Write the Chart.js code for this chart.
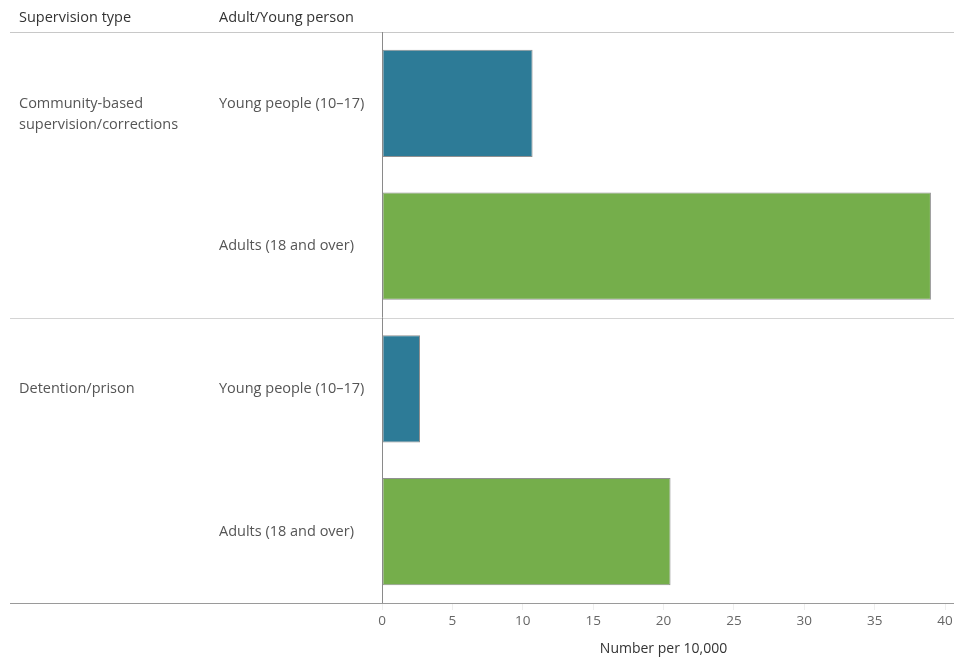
<!DOCTYPE html>
<html>
<head>
<meta charset="utf-8">
<script src="https://cdn.jsdelivr.net/npm/chart.js@4"></script>
<style>
  html, body { margin: 0; padding: 0; background: #fff; }
  #wrap { width: 954px; height: 659px; }
</style>
</head>
<body>
<div id="wrap"><canvas id="rateChart"></canvas></div>
<script>
// Rates of young people and adults under supervision, number per 10,000
const supervisionTypes = [['Community-based', 'supervision/corrections'], ['Detention/prison']];
const ageGroups = ['Young people (10\u201317)', 'Adults (18 and over)'];
const rates = [10.7, 39.0, 2.7, 20.5];
const barColors = ['#2d7b97', '#75ae4b'];

const headers = ['Supervision type', 'Adult/Young person'];
const axisTitle = 'Number per 10,000';

// One row per supervision type / age group pair
const rowLabels = [];
const rowColors = [];
supervisionTypes.forEach(() => {
    ageGroups.forEach((g, i) => {
        rowLabels.push(g);
        rowColors.push(barColors[i]);
    });
});

const FONT = '"Open Sans", "DejaVu Sans", sans-serif';

// Draws the table headers, the supervision type column and the row dividers
const tablePlugin = {
    id: 'tableLayout',
    beforeDatasetsDraw(chart) {
        const { ctx, chartArea, scales } = chart;
        const y = scales.y;
        const w = chart.width;
        ctx.save();
        ctx.lineWidth = 1;

        // top line under the headers
        ctx.strokeStyle = '#c8c8c8';
        ctx.beginPath();
        ctx.moveTo(10, chartArea.top + 0.5);
        ctx.lineTo(w, chartArea.top + 0.5);
        ctx.stroke();

        // divider between supervision types
        for (let g = 1; g < supervisionTypes.length; g++) {
            const idx = g * ageGroups.length;
            const py = Math.round((y.getPixelForValue(idx - 1) + y.getPixelForValue(idx)) / 2) + 0.5;
            ctx.strokeStyle = '#d4d4d4';
            ctx.beginPath();
            ctx.moveTo(10, py);
            ctx.lineTo(w, py);
            ctx.stroke();
        }

        // bottom line
        ctx.strokeStyle = '#9a9a9a';
        ctx.beginPath();
        ctx.moveTo(10, chartArea.bottom + 0.5);
        ctx.lineTo(w, chartArea.bottom + 0.5);
        ctx.stroke();
        ctx.restore();
    },
    afterDraw(chart) {
        const { ctx, chartArea, scales } = chart;
        const y = scales.y;
        ctx.save();
        ctx.textBaseline = 'middle';
        ctx.textAlign = 'left';

        ctx.font = '14.5px ' + FONT;
        ctx.fillStyle = '#333';
        ctx.fillText(headers[0], 19, 18);
        ctx.fillText(headers[1], 219, 18);

        ctx.fillStyle = '#555';
        supervisionTypes.forEach((lines, g) => {
            const py = y.getPixelForValue(g * ageGroups.length);
            lines.forEach((line, k) => {
                ctx.fillText(line, 19, py + k * 21);
            });
        });

        // zero line
        ctx.strokeStyle = '#8a8a8a';
        ctx.lineWidth = 1;
        ctx.beginPath();
        ctx.moveTo(chartArea.left + 0.5, chartArea.top);
        ctx.lineTo(chartArea.left + 0.5, chartArea.bottom);
        ctx.stroke();
        ctx.restore();
    }
};

new Chart(document.getElementById('rateChart'), {
    type: 'bar',
    data: {
        labels: rowLabels,
        datasets: [{
            data: rates,
            backgroundColor: rowColors,
            borderColor: 'rgba(125,125,125,0.85)',
            borderWidth: 1,
            borderSkipped: false,
            barPercentage: 0.75,
            categoryPercentage: 1
        }]
    },
    options: {
        indexAxis: 'y',
        responsive: true,
        maintainAspectRatio: false,
        animation: false,
        layout: { padding: { left: 219, top: 32, right: 9, bottom: 0 } },
        plugins: {
            legend: { display: false },
            tooltip: { enabled: false }
        },
        scales: {
            x: {
                min: 0,
                max: 40,
                ticks: {
                    stepSize: 5,
                    color: '#666',
                    padding: 3,
                    maxRotation: 0,
                    font: { family: FONT, size: 13.5 }
                },
                grid: {
                    drawOnChartArea: false,
                    tickLength: 7,
                    color: '#eeeeee'
                },
                border: { display: false },
                title: {
                    display: true,
                    text: axisTitle,
                    color: '#333',
                    font: { family: FONT, size: 14 },
                    padding: { top: 0, bottom: 2 }
                },
                afterFit(scale) {
                    scale.height = 56;
                    // keep the plot edge at the layout padding, not the last label
                    scale.paddingLeft = 0;
                    scale.paddingRight = 0;
                }
            },
            y: {
                ticks: {
                    crossAlign: 'far',
                    color: '#555',
                    font: { family: FONT, size: 14.5 }
                },
                grid: { display: false },
                border: { display: false },
                afterFit(scale) { scale.width = 163; }
            }
        }
    },
    plugins: [tablePlugin]
});
</script>
</body>
</html>
